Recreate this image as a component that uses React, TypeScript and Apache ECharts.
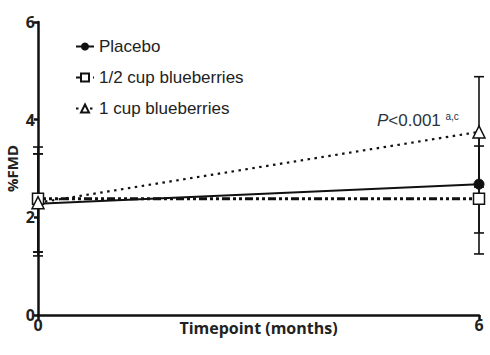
import React, { useEffect, useRef } from "react";
import * as echarts from "echarts";

const timepoints = [0, 6];
const seriesNames = ["Placebo", "1/2 cup blueberries", "1 cup blueberries"];
const placebo = [2.28, 2.68];
const halfCup = [2.38, 2.38];
const oneCup = [2.3, 3.75];
// error bar ends [low, high] per timepoint
const placeboErr = [[1.21, 3.3], [1.68, 3.68]];
const halfCupErr = [[1.29, 3.44], [1.25, 3.46]];
const oneCupErr = [[1.29, 3.3], [2.62, 4.88]];
const yTicks = [0, 2, 4, 6];
const xTicks = [0, 6];

const FONT = "Liberation Sans, Arial, sans-serif";
const BFONT = "Open Sans, sans-serif";

export default function App() {
  const ref = useRef<HTMLDivElement>(null);
  useEffect(() => {
    const chart = echarts.init(ref.current!, null, { renderer: "svg" });
    const errData: number[][] = [];
    [placeboErr, halfCupErr, oneCupErr].forEach((g) =>
      g.forEach((e, i) => errData.push([timepoints[i], e[0], e[1]]))
    );
    const mk = (vals: number[]) => vals.map((v, i) => [timepoints[i], v]);
    chart.setOption({
      animation: false,
      textStyle: { fontFamily: FONT },
      grid: { left: 38, right: 11, top: 22, bottom: 40, outerBoundsMode: "none", containLabel: false },
      legend: {
        orient: "vertical",
        left: 70,
        top: 33,
        itemGap: 14,
        itemWidth: 18,
        itemHeight: 10,
        textStyle: { fontSize: 17, color: "#222", fontFamily: FONT },
        data: seriesNames,
      },
      xAxis: {
        type: "value",
        min: 0,
        max: 6,
        interval: 6,
        name: "Timepoint (months)",
        nameLocation: "middle",
        nameGap: 13,
        nameMoveOverlap: false,
        nameTextStyle: { fontSize: 16, fontWeight: "bold", color: "#222", fontFamily: BFONT, verticalAlign: "middle", lineHeight: 18 },
        axisLine: { lineStyle: { color: "#111", width: 2.5 } },
        axisTick: { length: 5, lineStyle: { width: 2.5 } },
        axisLabel: {
          fontSize: 16,
          fontWeight: "bold",
          color: "#222",
          margin: 2,
          fontFamily: BFONT,
          formatter: (v: number) => (xTicks.includes(v) ? String(v) : ""),
        },
        splitLine: { show: false },
      },
      yAxis: {
        type: "value",
        min: 0,
        max: 6,
        interval: 2,
        name: "%FMD",
        nameLocation: "middle",
        nameGap: 26,
        nameMoveOverlap: false,
        nameTextStyle: { fontSize: 15, fontWeight: "bold", color: "#222", fontFamily: BFONT, verticalAlign: "middle", lineHeight: 17 },
        axisLine: { show: true, lineStyle: { color: "#111", width: 2.5 } },
        axisTick: { show: true, length: 4, lineStyle: { width: 2.5 } },
        axisLabel: {
          fontSize: 16,
          fontWeight: "bold",
          color: "#222",
          margin: 3,
          fontFamily: BFONT,
          formatter: (v: number) => (yTicks.includes(v) ? String(v) : ""),
        },
        splitLine: { show: false },
      },
      series: [
        {
          type: "custom",
          name: "err",
          clip: false,
          z: 1,
          data: errData,
          renderItem: (params: any, api: any) => {
            const x = api.value(0);
            const lo = api.coord([x, api.value(1)]);
            const hi = api.coord([x, api.value(2)]);
            const w = 5;
            const s = { stroke: "#111", lineWidth: 1.6 };
            return {
              type: "group",
              children: [
                { type: "line", shape: { x1: lo[0], y1: lo[1], x2: hi[0], y2: hi[1] }, style: s },
                { type: "line", shape: { x1: lo[0] - w, y1: lo[1], x2: lo[0] + w, y2: lo[1] }, style: s },
                { type: "line", shape: { x1: hi[0] - w, y1: hi[1], x2: hi[0] + w, y2: hi[1] }, style: s },
              ],
            };
          },
        },
        {
          type: "line",
          name: seriesNames[0],
          data: mk(placebo),
          clip: false,
          z: 3,
          symbol: "circle",
          symbolSize: 10,
          lineStyle: { color: "#111", width: 2 },
          itemStyle: { color: "#111", borderColor: "#111" },
        },
        {
          type: "line",
          name: seriesNames[1],
          data: mk(halfCup),
          clip: false,
          z: 3,
          symbol: "rect",
          symbolSize: 11,
          lineStyle: { color: "#111", width: 3, type: [8, 3, 3, 3, 3, 3] },
          itemStyle: { color: "#fff", borderColor: "#111", borderWidth: 1.5 },
        },
        {
          type: "line",
          name: seriesNames[2],
          data: mk(oneCup),
          clip: false,
          z: 3,
          symbol: "triangle",
          symbolSize: 12,
          lineStyle: { color: "#111", width: 2.2, type: [2.5, 4.5] },
          itemStyle: { color: "#fff", borderColor: "#111", borderWidth: 1.5 },
        },
      ],
      graphic: [
        {
          type: "text",
          left: 377,
          top: 111,
          style: {
            text: "{i|P}{n|<0.001 }{s|a,c}",
            rich: {
              i: { fontSize: 17, fontStyle: "italic", fill: "#2a3440", fontFamily: FONT },
              n: { fontSize: 17, fill: "#2a3440", fontFamily: FONT },
              s: { fontSize: 10, fill: "#2a3440", fontFamily: FONT, verticalAlign: "top", padding: [0, 0, 9, 0] },
            },
          },
        },
      ],
    });
    return () => chart.dispose();
  }, []);
  return <div ref={ref} style={{ width: 490, height: 355, position: "absolute", left: 0, top: 0 }} />;
}
